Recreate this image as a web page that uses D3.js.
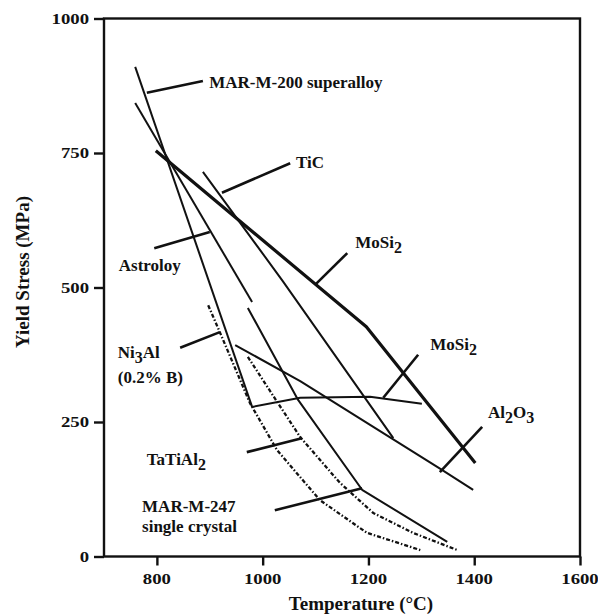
<!DOCTYPE html>
<html><head><meta charset="utf-8">
<script src="https://cdn.jsdelivr.net/npm/d3@7/dist/d3.min.js"></script>
<style>body{margin:0;background:#fff} svg{display:block}</style>
</head><body>
<svg id="chart" width="598" height="614"></svg>
<script>
// ---- data (temperature °C, yield stress MPa) ----
const xTicks = [800, 1000, 1200, 1400, 1600];
const yTicks = [0, 250, 500, 750, 1000];

const marM200   = [[759, 910], [980, 278]];
const astroloy  = [[759, 843], [980, 473]];
const mosi2     = [[798, 754], [1196, 427], [1402, 174]];
const mosi2b    = [[980, 278], [1071, 295], [1203, 297], [1301, 284]];
const tic       = [[887, 715], [1038, 512], [1247, 220]];
const al2o3     = [[948, 393], [1071, 326], [1336, 163], [1398, 124]];
const marM247   = [[972, 462], [1067, 291], [1188, 124], [1349, 27]];
const ni3al     = [[897, 467], [919, 417], [976, 285], [1027, 198], [1108, 105], [1197, 44], [1298, 12]];
const tatial2   = [[972, 371], [1029, 285], [1071, 222], [1146, 137], [1209, 81], [1284, 44], [1368, 12]];

// leader lines [T1, S1, T2, S2]
const leaders = [
  [781, 862, 887, 884],   // MAR-M-200
  [923, 676, 1052, 731],  // TiC
  [1099, 505, 1160, 564], // MoSi2
  [795, 573, 900, 603],   // Astroloy
  [844, 388, 919, 417],   // Ni3Al
  [970, 194, 1074, 220],  // TaTiAl2
  [1023, 86, 1188, 127],  // MAR-M-247
  [1228, 295, 1294, 375], // MoSi2 (2)
  [1335, 157, 1415, 241]  // Al2O3
];

// label anchors [T, S] with text parts [text, isSub]
const labels = [
  {at: [899, 871], parts: [["MAR-M-200 superalloy", 0]]},
  {at: [1063, 722], parts: [["TiC", 0]]},
  {at: [1175, 573], parts: [["MoSi", 0], ["2", 1]]},
  {at: [728, 531], parts: [["Astroloy", 0]]},
  {at: [726, 369], parts: [["Ni", 0], ["3", 1], ["Al", 0]]},
  {at: [726, 323], parts: [["(0.2% B)", 0]]},
  {at: [781, 170], parts: [["TaTiAl", 0], ["2", 1]]},
  {at: [772, 83], parts: [["MAR-M-247", 0]]},
  {at: [772, 46], parts: [["single crystal", 0]]},
  {at: [1317, 384], parts: [["MoSi", 0], ["2", 1]]},
  {at: [1426, 257], parts: [["Al", 0], ["2", 1], ["O", 0], ["3", 1]]}
];

// ---- drawing ----
const W = 598, H = 614;
const m = {left: 104, right: 18, top: 18.5, bottom: 57.5};
const svg = d3.select("#chart");
const x = d3.scaleLinear().domain([700, 1600]).range([m.left, W - m.right]);
const y = d3.scaleLinear().domain([0, 1000]).range([H - m.bottom, m.top]);
const serif = "'Liberation Serif', 'Times New Roman', serif";
const ink = "#111";

// frame
svg.append("rect")
  .attr("x", x(700)).attr("y", y(1000))
  .attr("width", x(1600) - x(700)).attr("height", y(0) - y(1000))
  .attr("fill", "none").attr("stroke", ink).attr("stroke-width", 2.4);

// y axis
const yAxis = svg.append("g").attr("transform", `translate(${x(700)},0)`)
  .call(d3.axisLeft(y).tickValues(yTicks).tickSize(10).tickFormat(""));
yAxis.select(".domain").remove();
yAxis.selectAll("line").attr("stroke", ink).attr("stroke-width", 2.4);
yTicks.forEach(v => {
  svg.append("text")
    .attr("transform", `translate(${x(700) - 15},${y(v) + 5}) scale(1.25,1)`)
    .attr("text-anchor", "end")
    .attr("font-family", serif).attr("font-weight", "bold").attr("font-size", 15)
    .attr("fill", ink).text(v);
});

// x axis
const xAxis = svg.append("g").attr("transform", `translate(0,${y(0)})`)
  .call(d3.axisBottom(x).tickValues(xTicks).tickSize(9).tickFormat(""));
xAxis.select(".domain").remove();
xAxis.selectAll("line").attr("stroke", ink).attr("stroke-width", 2.4);
xTicks.forEach(v => {
  svg.append("text")
    .attr("transform", `translate(${x(v)},${y(0) + 27}) scale(1.25,1)`)
    .attr("text-anchor", "middle")
    .attr("font-family", serif).attr("font-weight", "bold").attr("font-size", 15)
    .attr("fill", ink).text(v);
});

// axis titles
svg.append("text")
  .attr("x", 361).attr("y", 610)
  .attr("text-anchor", "middle")
  .attr("font-family", serif).attr("font-weight", "bold").attr("font-size", 19)
  .attr("fill", ink).text("Temperature (°C)");
svg.append("text")
  .attr("transform", `translate(29,${272}) rotate(-90)`)
  .attr("text-anchor", "middle")
  .attr("font-family", serif).attr("font-weight", "bold").attr("font-size", 19)
  .attr("fill", ink).text("Yield Stress (MPa)");

// curves
const line = d3.line().x(d => x(d[0])).y(d => y(d[1]));
const series = [
  {d: marM200, w: 2},
  {d: astroloy, w: 2},
  {d: mosi2, w: 3.2},
  {d: mosi2b, w: 2},
  {d: tic, w: 2},
  {d: al2o3, w: 2},
  {d: marM247, w: 2},
  {d: ni3al, w: 2.3, dash: "4,2,1.5,2"},
  {d: tatial2, w: 2.3, dash: "4,2,1.5,2"}
];
svg.append("g").selectAll("path").data(series).join("path")
  .attr("d", s => line(s.d))
  .attr("fill", "none").attr("stroke", ink)
  .attr("stroke-width", s => s.w)
  .attr("stroke-dasharray", s => s.dash || null)
  .attr("stroke-linejoin", "round");

// leader lines
svg.append("g").selectAll("line").data(leaders).join("line")
  .attr("x1", d => x(d[0])).attr("y1", d => y(d[1]))
  .attr("x2", d => x(d[2])).attr("y2", d => y(d[3]))
  .attr("stroke", ink).attr("stroke-width", 2.6);

// labels
labels.forEach(l => {
  const t = svg.append("text")
    .attr("x", x(l.at[0])).attr("y", y(l.at[1]))
    .attr("font-family", serif).attr("font-weight", "bold").attr("font-size", 17)
    .attr("fill", ink);
  let sub = false;
  l.parts.forEach(p => {
    const ts = t.append("tspan").text(p[0]);
    if (p[1] && !sub) { ts.attr("dy", 5).attr("font-size", 16); sub = true; }
    else if (!p[1] && sub) { ts.attr("dy", -5); sub = false; }
    else if (p[1]) { ts.attr("font-size", 16); }
  });
});
</script>
</body></html>
